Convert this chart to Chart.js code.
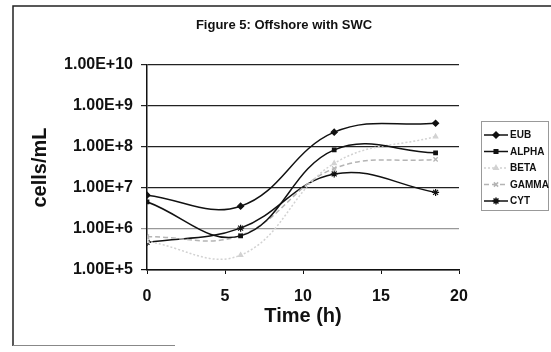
<!DOCTYPE html>
<html>
<head>
<meta charset="utf-8">
<script src="https://cdn.jsdelivr.net/npm/chart.js@4/dist/chart.umd.min.js"></script>
<style>
  html, body { margin: 0; padding: 0; background: #fff; }
  #wrap { position: relative; width: 551px; height: 352px; }
</style>
</head>
<body>
<div id="wrap"><canvas id="c" width="551" height="352"></canvas></div>
<script>
// data
const timeHours = [0, 6, 12, 18.5];
const seriesNames = ["EUB", "ALPHA", "BETA", "GAMMA", "CYT"];
const eubValues = [6.7e6, 3.6e6, 2.3e8, 3.8e8];
const alphaValues = [4.6e6, 6.8e5, 8.5e7, 7.2e7];
const betaValues = [5.0e5, 2.3e5, 4.0e7, 1.8e8];
const gammaValues = [6.5e5, 7.0e5, 3.0e7, 5.0e7];
const cytValues = [4.7e5, 1.05e6, 2.2e7, 7.8e6];
const yTickValues = [1e5, 1e6, 1e7, 1e8, 1e9, 1e10];
const xTickValues = [0, 5, 10, 15, 20];

const FONT = "'Liberation Sans', Arial, sans-serif";

function toPoints(vals) {
  return vals.map((v, i) => ({ x: timeHours[i], y: v }));
}

const styles = [
  { color: "#111", dash: [], point: "rectRot", r: 3 },
  { color: "#111", dash: [], point: "rect", r: 2.5 },
  { color: "#d2d2d2", dash: [2, 2], point: "triangle", r: 2.5 },
  { color: "#b4b4b4", dash: [5, 3], point: "crossRot", r: 3 },
  { color: "#111", dash: [], point: "star", r: 3.5 },
];
const allValues = [eubValues, alphaValues, betaValues, gammaValues, cytValues];

const datasets = seriesNames.map((name, i) => ({
  label: name,
  data: toPoints(allValues[i]),
  showLine: true,
  tension: 0.4,
  borderColor: styles[i].color,
  backgroundColor: styles[i].color,
  borderWidth: 1.5,
  borderDash: styles[i].dash,
  pointStyle: styles[i].point,
  pointRadius: styles[i].r,
  pointBorderWidth: 1.2,
}));

// frame, title and legend box
const decorPlugin = {
  id: "decor",
  beforeDraw(chart) {
    const ctx = chart.ctx;
    ctx.save();
    ctx.fillStyle = "#fff";
    ctx.fillRect(0, 0, chart.width, chart.height);
    ctx.strokeStyle = "#222";
    ctx.lineWidth = 1.5;
    ctx.beginPath();
    ctx.moveTo(13, 346);
    ctx.lineTo(13, 6);
    ctx.lineTo(551, 6);
    ctx.stroke();
    ctx.strokeStyle = "#888";
    ctx.lineWidth = 1;
    ctx.beginPath();
    ctx.moveTo(13, 345.5);
    ctx.lineTo(175, 345.5);
    ctx.stroke();
    ctx.restore();
  },
  afterDraw(chart) {
    const ctx = chart.ctx;
    ctx.save();
    ctx.fillStyle = "#111";
    ctx.font = "bold 13px " + FONT;
    ctx.textAlign = "center";
    ctx.textBaseline = "middle";
    ctx.fillText("Figure 5: Offshore with SWC", 284, 25);

    // legend
    const lx = 481, ly = 121, lw = 67, lh = 89;
    ctx.strokeStyle = "#999";
    ctx.lineWidth = 1;
    ctx.strokeRect(lx + 0.5, ly + 0.5, lw, lh);
    ctx.font = "bold 10px " + FONT;
    ctx.textAlign = "left";
    chart.data.datasets.forEach((ds, i) => {
      const y = 135 + i * 16.5;
      ctx.strokeStyle = ds.borderColor;
      ctx.lineWidth = 1.5;
      ctx.setLineDash(ds.borderDash);
      ctx.beginPath();
      ctx.moveTo(484, y);
      ctx.lineTo(508, y);
      ctx.stroke();
      ctx.setLineDash([]);
      ctx.fillStyle = ds.borderColor;
      Chart.helpers.drawPoint(ctx, {
        pointStyle: ds.pointStyle, radius: ds.pointRadius, rotation: 0, borderWidth: 1.2
      }, 496, y);
      ctx.fillStyle = "#111";
      ctx.fillText(ds.label, 510, y + 0.5);
    });
    ctx.restore();
  },
};

new Chart(document.getElementById("c"), {
  type: "scatter",
  data: { datasets },
  plugins: [decorPlugin],
  options: {
    responsive: false,
    animation: false,
    layout: { padding: { left: 0, right: 92, top: 65, bottom: 0 } },
    plugins: {
      legend: { display: false },
      title: { display: false },
      tooltip: { enabled: false },
    },
    scales: {
      x: {
        type: "linear",
        min: 0,
        max: 20,
        afterBuildTicks(scale) {
          scale.ticks = xTickValues.map(v => ({ value: v }));
        },
        afterFit(scale) { scale.height = 82; },
        border: { color: "#111", width: 1.5 },
        grid: { drawOnChartArea: false, drawTicks: true, tickLength: 4, color: "#111" },
        ticks: {
          color: "#111",
          padding: 13,
          font: { family: FONT, size: 16, weight: "bold" },
        },
        title: {
          display: true,
          text: "Time (h)",
          color: "#111",
          padding: { top: 4, bottom: 24 },
          font: { family: FONT, size: 20, weight: "bold" },
        },
      },
      y: {
        type: "logarithmic",
        min: 1e5,
        max: 1e10,
        afterBuildTicks(scale) {
          scale.ticks = yTickValues.map(v => ({ value: v }));
        },
        afterFit(scale) { scale.width = 147; },
        border: { color: "#111", width: 1.5 },
        grid: {
          tickLength: 6,
          lineWidth: 1.2,
          color: (c) => {
            const v = c.tick && c.tick.value;
            if (v === 1e6) return "#999";
            if (v === 1e5) return "#111";
            return "#222";
          },
        },
        ticks: {
          color: "#111",
          padding: 8,
          font: { family: FONT, size: 16, weight: "bold" },
          callback: (v) => Number(v).toExponential(2).toUpperCase(),
        },
        title: {
          display: true,
          text: "cells/mL",
          color: "#111",
          padding: { top: 28, bottom: 0 },
          font: { family: FONT, size: 20, weight: "bold" },
        },
      },
    },
  },
});
</script>
</body>
</html>
